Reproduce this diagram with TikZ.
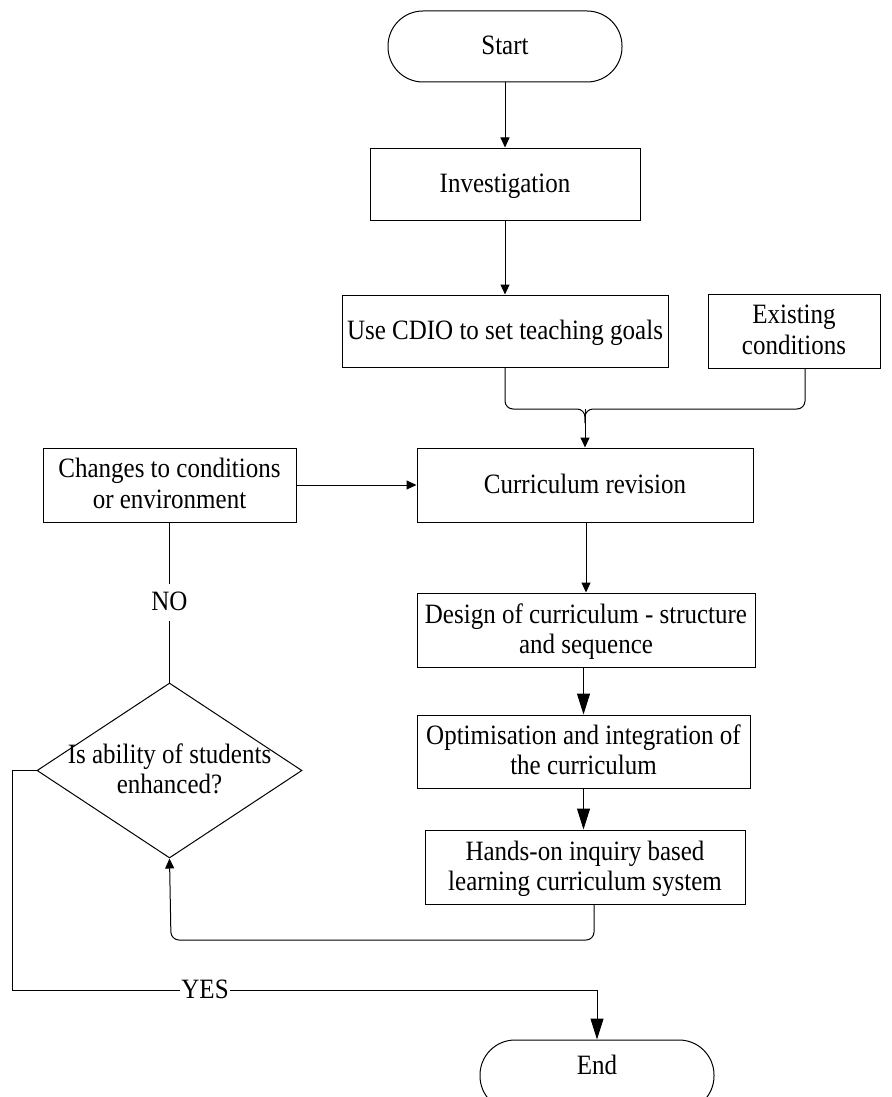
\documentclass[tikz,border=0pt]{standalone}
\usepackage{fontspec}
\usepackage{graphicx}
\setmainfont{Liberation Serif}
\usetikzlibrary{shapes.geometric,arrows.meta}
\newcommand{\vtxt}[1]{\raisebox{0pt}[\dimexpr\height+4pt\relax][\depth]{\scalebox{1}[1.12]{\begin{tabular}{@{}c@{}}#1\end{tabular}}}}
\begin{document}
\begin{tikzpicture}[x=1pt,y=-1pt,
  font=\fontsize{25}{26.8}\selectfont,
  line width=1pt,
  box/.style={draw,rectangle,inner sep=0pt,align=center},
  term/.style={draw,rectangle,rounded corners=35pt,minimum width=234pt,minimum height=71pt,inner sep=0pt},
  arrS/.style={-{Triangle[length=10pt,width=9pt]}},
  arrL/.style={-{Triangle[length=21pt,width=13pt]}},
  lbl/.style={fill=white,inner sep=1pt}]
\useasboundingbox (0,0) rectangle (891,1097);
% nodes
\node[term] (start) at (505,46.5) {\vtxt{Start}};
\node[box,minimum width=270pt,minimum height=72pt] (inv) at (505,184) {\vtxt{Investigation}};
\node[box,minimum width=326pt,minimum height=72pt] (cdio) at (505,331) {\vtxt{Use CDIO to set teaching goals}};
\node[box,minimum width=172pt,minimum height=74pt] (exist) at (794,331) {\vtxt{Existing\\conditions}};
\node[box,minimum width=336pt,minimum height=74pt] (rev) at (585,485) {\vtxt{Curriculum revision}};
\node[box,minimum width=253pt,minimum height=74pt] (chg) at (169.5,485) {\vtxt{Changes to conditions\\or environment}};
\node[box,minimum width=338pt,minimum height=74pt] (design) at (586,630) {\vtxt{Design of curriculum - structure\\and sequence}};
\node[box,minimum width=333pt,minimum height=73pt] (optim) at (583.5,751.5) {\vtxt{Optimisation and integration of\\the curriculum}};
\node[box,minimum width=320pt,minimum height=74pt] (hands) at (585,867) {\vtxt{Hands-on inquiry based\\learning curriculum system}};
\node[draw,diamond,inner sep=0pt,minimum width=265pt,minimum height=175pt] (dia) at (169.5,770.5) {};
\node[inner sep=0pt] (diatext) at (169.5,770.5) {\vtxt{Is ability of students\\enhanced?}};
\node[term] (end) at (597,1075.5) {};
\node[inner sep=0pt] (endtext) at (597,1066) {\vtxt{End}};
% junction coordinates
\coordinate (j) at (585,409);
\coordinate (exb) at (805,368);
\coordinate (hb) at (594,904);
\coordinate (rb) at (171,940);
\coordinate (yl) at (12,990);
% connectors
\draw[arrS] (start) -- (inv);
\draw[arrS] (inv) -- (cdio);
\draw[rounded corners=8pt] (cdio.south) |- (j) -- ++(0,14);
\draw[rounded corners=8pt] (exb) |- (j) -- ++(0,14);
\draw[arrS] (j) -- (rev.north -| j);
\draw[arrS] (chg.east) -- (rev.west);
\draw (chg.south) -- node[lbl] (no) {\vtxt{NO}} (dia.north);
\draw[arrS] (rev.south -| design.north) -- (design.north);
\draw[arrL] (design.south -| optim.north) -- (optim.north);
\draw[arrL] (optim.south) -- (hands.north -| optim.south);
\draw[arrS,rounded corners=8pt] (hb) |- (rb) -- (dia.south);
\draw[arrL] (dia.west) -| (yl) -- node[lbl,pos=0.33] (yes) {\vtxt{YES}} (yl -| end.north) -- (end.north);
\end{tikzpicture}
\end{document}
